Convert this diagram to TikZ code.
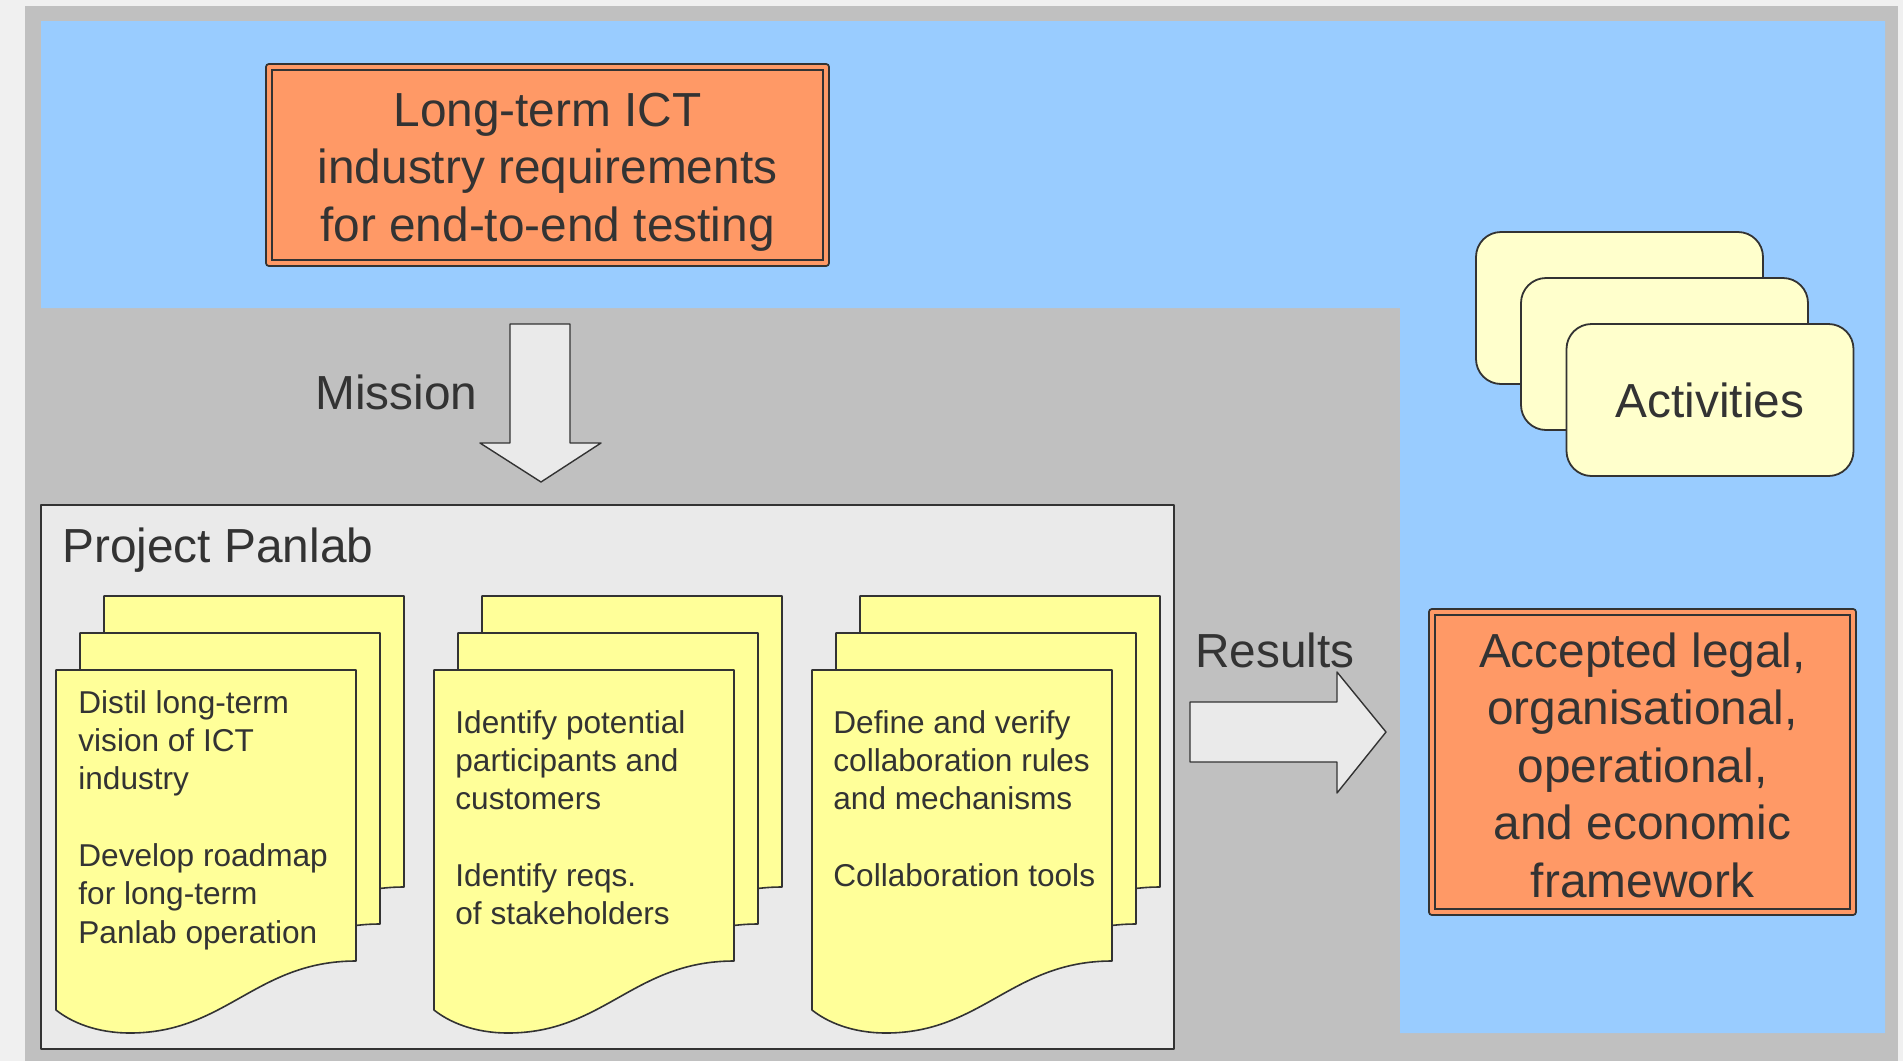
\documentclass[tikz,border=0pt]{standalone}
\usepackage{fontspec}
\setmainfont{Liberation Sans}
\usetikzlibrary{positioning}
\definecolor{skyblue}{HTML}{99CCFF}
\definecolor{framegray}{HTML}{C0C0C0}
\definecolor{panelgray}{HTML}{EAEAEA}
\definecolor{noteyellow}{HTML}{FFFF99}
\definecolor{cardyellow}{HTML}{FFFFCC}
\definecolor{goalorange}{HTML}{FF9966}
\definecolor{inkgray}{HTML}{333333}
\newcommand{\bigtext}{\fontsize{23.9}{28.75}\selectfont}
\newcommand{\notetext}{\fontsize{15.8}{19.15}\selectfont}
% one note sheet, top left corner at (#1,#2)
\newcommand{\notesheet}[2]{\draw[sheet,shift={(#1,#2)}] (0,0) -- (300,0) -- (300,291)
  .. controls (200,291) and (170,363) .. (74,363) .. controls (40,363) and (15,352) .. (0,340) -- cycle;}
\begin{document}
\begin{tikzpicture}[x=0.5pt,y=-0.5pt,line join=round,
    sheet/.style={fill=noteyellow,draw=inkgray,line width=0.8pt},
    goal/.style={draw=inkgray,line width=1pt,double=goalorange,double distance=2pt,fill=goalorange,inner sep=0pt},
    goaltext/.style={text=inkgray,align=center,font=\bigtext,inner sep=0pt},
    card/.style={draw=inkgray,line width=0.9pt,fill=cardyellow,rounded corners=12.5pt,
      minimum width=143.5pt,minimum height=76pt,text=inkgray,font=\bigtext},
    bigarrow/.style={fill=panelgray,draw=inkgray,line width=0.7pt},
    caption/.style={text=inkgray,font=\bigtext,inner sep=0pt},
    notes/.style={text=inkgray,font=\notetext,align=left,inner sep=0pt,anchor=north west}]
  \useasboundingbox (0,0) rectangle (1903,1061);
  % backgrounds
  \fill[black!6] (0,0) rectangle (1903,1061);
  \fill[framegray] (25,6) rectangle (1898,1061);
  \fill[skyblue] (41,21) -- (1885,21) -- (1885,1033) -- (1400,1033) -- (1400,308) -- (41,308) -- cycle;

  % requirements
  \node[goal,minimum width=278.5pt,minimum height=98pt] (req) at (547.5,165) {};
  \node[goaltext] (reqtext) at (547.5,172) {Long-term ICT\\industry requirements\\for end-to-end testing};

  % mission arrow
  \coordinate (mtop) at (540,324);
  \draw[bigarrow] (mtop) ++(-30,0) -- ++(60,0) -- ++(0,119) -- ++(31,0) -- ++(-60,39) -- ++(-61,-39) -- ++(30,0) -- cycle;
  \node[caption,anchor=base west] (mission) at (315,409) {Mission};

  % project panel
  \draw[fill=panelgray,draw=inkgray,line width=0.8pt] (41,505) rectangle (1174,1049);
  \node[caption,anchor=base west] (panlab) at (62,562) {Project Panlab};
  \foreach \dx in {0,378,756} {
    \notesheet{104+\dx}{596}
    \notesheet{80+\dx}{633}
    \notesheet{56+\dx}{670}
  }
  \node[notes] (distil) at (78,690) {Distil long-term\\vision of ICT\\industry\\[19.15pt]Develop roadmap\\for long-term\\Panlab operation};
  \node[notes] (identify) at (455,710) {Identify potential\\participants and\\customers\\[19.15pt]Identify reqs.\\of stakeholders};
  \node[notes] (define) at (833,710) {Define and verify\\collaboration rules\\and mechanisms\\[19.15pt]Collaboration tools};

  % results arrow
  \coordinate (rtail) at (1190,732);
  \draw[bigarrow] (rtail) ++(0,-30) -- ++(147,0) -- ++(0,-30) -- ++(49,60) -- ++(-49,61) -- ++(0,-31) -- ++(-147,0) -- cycle;
  \node[caption,anchor=base west] (results) at (1195,667) {Results};

  % activities
  \node[card] (act1) at (1619.5,308) {};
  \node[card] (act2) at (1664.5,354) {};
  \node[card] (act3) at (1710,400) {Activities};

  % framework
  \node[goal,minimum width=210.5pt,minimum height=150pt] (frame) at (1642.5,762) {};
  \node[goaltext] (frametext) at (1642.5,765)
    {Accepted legal,\\organisational,\\operational,\\and economic\\framework};
\end{tikzpicture}
\end{document}
